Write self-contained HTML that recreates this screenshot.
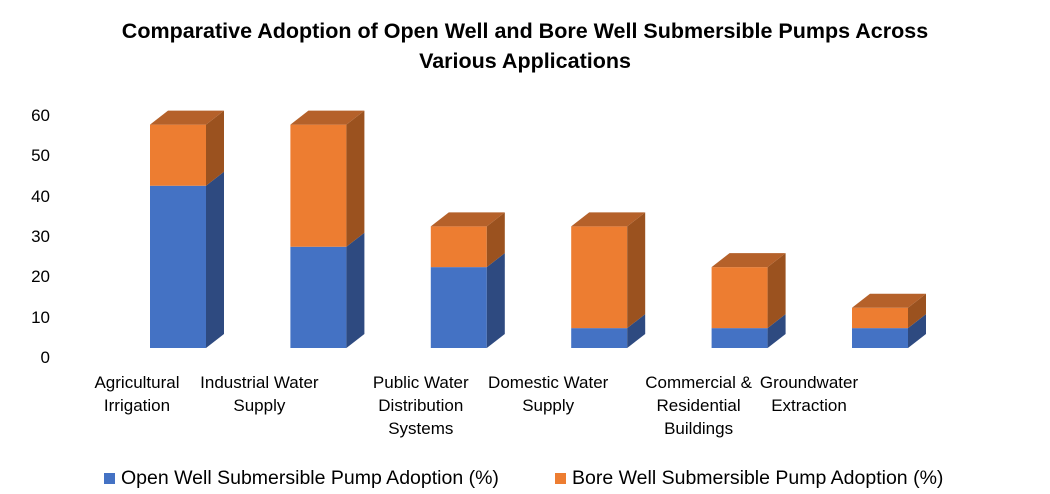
<!DOCTYPE html>
<html><head><meta charset="utf-8">
<style>
body{margin:0;background:#fff;}
#wrap{position:relative;width:1050px;height:494px;overflow:hidden;font-family:"Liberation Sans",sans-serif;color:#000;}
.title{position:absolute;left:0;width:1050px;top:16px;text-align:center;font-weight:bold;font-size:21.5px;line-height:30px;}
.ytick{position:absolute;left:18px;width:32px;text-align:right;font-size:17px;}
.cat{position:absolute;top:371px;width:150px;text-align:center;font-size:17px;line-height:23px;}
.leg{position:absolute;top:467px;font-size:19.5px;display:flex;align-items:center;}
.sw{width:11px;height:11px;margin-right:6px;}
</style></head><body>
<div id="wrap">
<div class="title">Comparative Adoption of Open Well and Bore Well Submersible Pumps Across<br>Various Applications</div>
<svg id="plot" width="1050" height="494" style="position:absolute;left:0;top:0"></svg>
<div id="yticks"></div>
<div id="cats"></div>
<div class="leg" style="left:104px"><div class="sw" style="background:#4472C4"></div>Open Well Submersible Pump Adoption (%)</div>
<div class="leg" style="left:555px"><div class="sw" style="background:#ED7D31"></div>Bore Well Submersible Pump Adoption (%)</div>
</div>
<script>
const categories=["Agricultural<br>Irrigation","Industrial Water<br>Supply","Public Water<br>Distribution<br>Systems","Domestic Water<br>Supply","Commercial &amp;<br>Residential<br>Buildings","Groundwater<br>Extraction"];
const openWell=[43,28,23,8,8,8];
const boreWell=[15,30,10,25,15,5];
const yTicks=[0,10,20,30,40,50,60];
const labelOffsets=[-41,-59,-38,-51,-41,-71];

const NS="http://www.w3.org/2000/svg";
const svg=document.getElementById('plot');
function yFront(v){return 360.7-v*4.07;}
function yAxis(v){return 358-v*4.033;}
function xBar(i){return 150+i*140.4;}
const W=56,DX=18,DY=-14,BASE=348;
function poly(pts,fill,name){
  const p=document.createElementNS(NS,'polygon');
  p.setAttribute('points',pts.map(a=>a.join(',')).join(' '));
  p.setAttribute('fill',fill);
  
  
  svg.appendChild(p);
}
function box(x,y0,y1,front,side,top,name,drawTop){
  poly([[x,y1],[x+W,y1],[x+W,y0],[x,y0]],front,name+'-front');
  poly([[x+W,y1],[x+W+DX,y1+DY],[x+W+DX,y0+DY],[x+W,y0]],side,name+'-side');
  if(drawTop) poly([[x,y1],[x+DX,y1+DY],[x+W+DX,y1+DY],[x+W,y1]],top,name+'-top');
}
yTicks.forEach(t=>{
  const d=document.createElement('div');
  d.className='ytick';
  d.style.top=(yAxis(t)-10)+'px';
  d.textContent=t;
  
  
  document.getElementById('yticks').appendChild(d);
});
categories.forEach((c,i)=>{
  const x=xBar(i);
  const yb=yFront(openWell[i]);
  const yt=yFront(openWell[i]+boreWell[i]);
  box(x,BASE,yb,'#4472C4','#2E4A80','#3a62a8','bar-open-well-'+i,false);
  box(x,yb,yt,'#ED7D31','#9B521F','#B5612A','bar-bore-well-'+i,true);
  const d=document.createElement('div');
  d.className='cat';
  d.style.left=(x+W/2+labelOffsets[i]-75)+'px';
  d.innerHTML=c;
  
  
  document.getElementById('cats').appendChild(d);
});
</script>
</body></html>
